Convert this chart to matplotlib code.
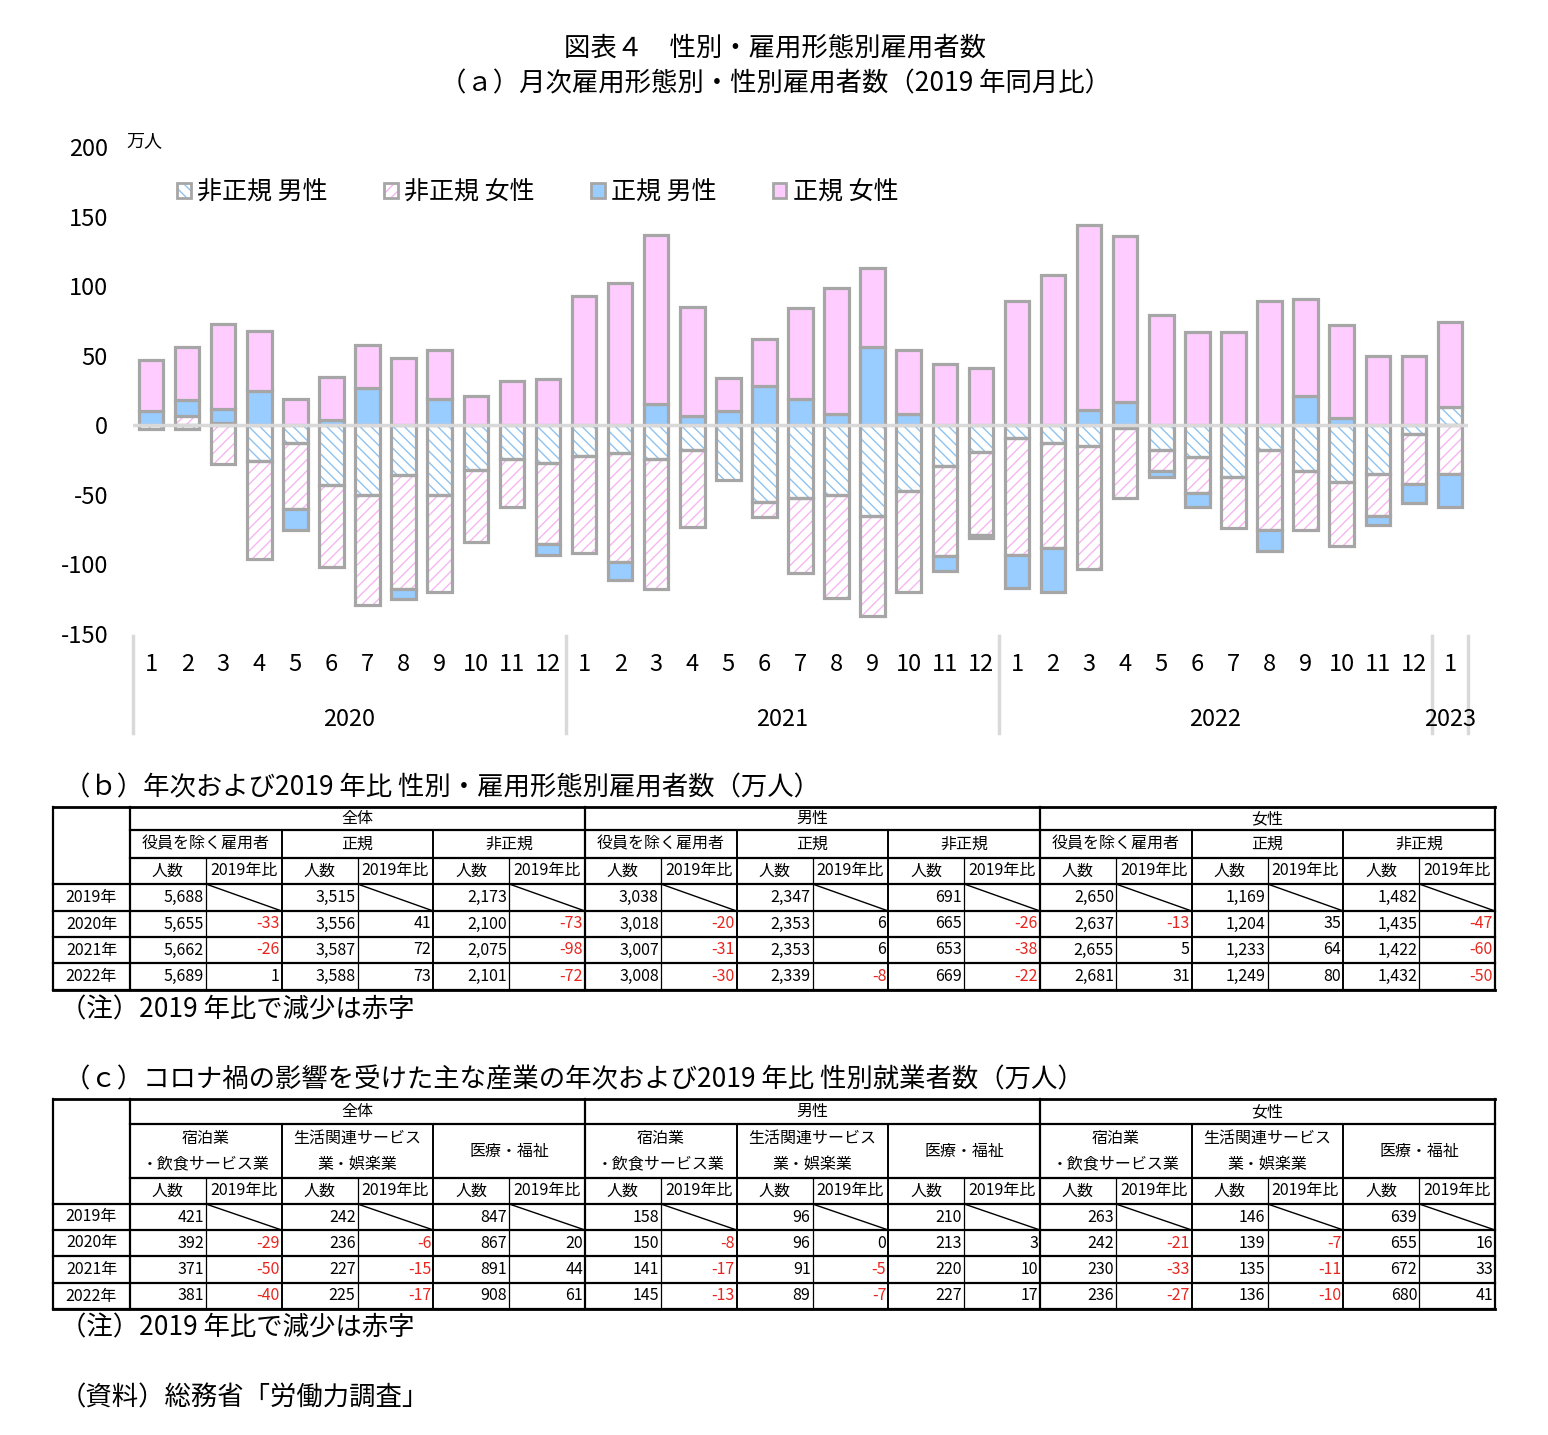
import numpy as np
import matplotlib
matplotlib.use('Agg')
import matplotlib.pyplot as plt
from matplotlib.patches import Patch
from matplotlib.legend_handler import HandlerTuple
import matplotlib.transforms as mtransforms

plt.rcParams['font.family'] = ['Noto Sans CJK JP', 'DejaVu Sans']
plt.rcParams['hatch.linewidth'] = 1.0

# ---- chart (a) data : change vs same month of 2019 (万人) ----
months = [str(m) for m in range(1, 13)] * 3 + ['1']
years = ['2020', '2021', '2022', '2023']
year_centers = [5.5, 17.5, 29.5, 36]

nonreg_male = [-3, -3, 2, -26, -13, -43, -50, -36, -50, -32, -24, -27,
               -22, -20, -24, -18, -39, -55, -52, -50, -65, -47, -29, -19,
               -9, -13, -15, -2, -18, -23, -37, -18, -33, -41, -35, -6,
               13]
nonreg_female = [0, 7, -28, -70, -47, -59, -79, -82, -70, -52, -35, -58,
                 -70, -78, -94, -55, 0, -11, -54, -74, -72, -73, -65, -60,
                 -84, -75, -88, -50, -15, -26, -37, -57, -42, -46, -30, -36,
                 -35]
reg_male = [10, 11, 10, 25, -15, 4, 27, -7, 19, 0, 0, -8,
            0, -13, 15, 7, 10, 28, 19, 8, 56, 8, -11, -2,
            -24, -32, 11, 17, -4, -10, 0, -15, 21, 5, -7, -14,
            -24]
reg_female = [37, 38, 61, 43, 19, 31, 31, 48, 35, 21, 32, 33,
              93, 102, 122, 78, 24, 34, 65, 91, 57, 46, 44, 41,
              89, 108, 133, 119, 79, 67, 67, 89, 70, 67, 50, 50,
              61]

series_names = ['非正規 男性', '非正規 女性', '正規 男性', '正規 女性']

# ---- table (b) data ----
row_years = ['2019年', '2020年', '2021年', '2022年']
b_groups = ['全体', '男性', '女性']
b_subs = ['役員を除く雇用者', '正規', '非正規']
b_counts = [[5688, 3515, 2173, 3038, 2347, 691, 2650, 1169, 1482],
            [5655, 3556, 2100, 3018, 2353, 665, 2637, 1204, 1435],
            [5662, 3587, 2075, 3007, 2353, 653, 2655, 1233, 1422],
            [5689, 3588, 2101, 3008, 2339, 669, 2681, 1249, 1432]]
b_diffs = [[-33, 41, -73, -20, 6, -26, -13, 35, -47],
           [-26, 72, -98, -31, 6, -38, 5, 64, -60],
           [1, 73, -72, -30, -8, -22, 31, 80, -50]]

# ---- table (c) data ----
c_subs = [('宿泊業', '・飲食サービス業'), ('生活関連サービス', '業・娯楽業'), ('医療・福祉',)]
c_counts = [[421, 242, 847, 158, 96, 210, 263, 146, 639],
            [392, 236, 867, 150, 96, 213, 242, 139, 655],
            [371, 227, 891, 141, 91, 220, 230, 135, 672],
            [381, 225, 908, 145, 89, 227, 236, 136, 680]]
c_diffs = [[-29, -6, 20, -8, 0, 3, -21, -7, 16],
           [-50, -15, 44, -17, -5, 10, -33, -11, 33],
           [-40, -17, 61, -13, -7, 17, -27, -10, 41]]

W, H = 1548, 1435
fig = plt.figure(figsize=(W / 100, H / 100), dpi=100)

# full-figure pixel axes for titles and tables
tax = fig.add_axes([0, 0, 1, 1])
tax.set_xlim(0, W)
tax.set_ylim(H, 0)
tax.axis('off')

# chart axes
ax = fig.add_axes([133 / W, 1 - 634 / H, 1335 / W, 487 / H])
ax.set_facecolor('none')

x = np.arange(len(months))
edge = '#A6A6A6'
styles = [
    dict(face='white', hatch='\\\\\\', hcol='#8EC3F0'),
    dict(face='white', hatch='///', hcol='#F7B5F2'),
    dict(face='#99CCFF', hatch=None, hcol=None),
    dict(face='#FFCCFF', hatch=None, hcol=None),
]
bw = 0.68
pos_bottom = np.zeros(len(x))
neg_bottom = np.zeros(len(x))
handles = []
for vals, st in zip([nonreg_male, nonreg_female, reg_male, reg_female], styles):
    v = np.array(vals, dtype=float)
    bottom = np.where(v >= 0, pos_bottom, neg_bottom)
    m = v != 0
    if st['hatch']:
        ax.bar(x[m], v[m], bw, bottom=bottom[m], color=st['face'],
               edgecolor=st['hcol'], hatch=st['hatch'], linewidth=0, zorder=2)
        ax.bar(x[m], v[m], bw, bottom=bottom[m], fill=False,
               edgecolor=edge, linewidth=2.3, zorder=3)
        h = (Patch(facecolor='white', edgecolor=st['hcol'], hatch=st['hatch'], linewidth=0),
             Patch(fill=False, edgecolor=edge, linewidth=2.0))
    else:
        ax.bar(x[m], v[m], bw, bottom=bottom[m], color=st['face'],
               edgecolor=edge, linewidth=2.3, zorder=3)
        h = Patch(facecolor=st['face'], edgecolor=edge, linewidth=2.0)
    handles.append(h)
    pos_bottom = pos_bottom + np.where(v > 0, v, 0)
    neg_bottom = neg_bottom + np.where(v < 0, v, 0)

ax.axhline(0, color='#D9D9D9', linewidth=2.5, zorder=4)
ax.set_xlim(-0.5, len(x) - 0.5)
ax.set_ylim(-150, 200)
ax.set_yticks(range(-150, 201, 50))
ax.set_yticklabels([str(t) for t in range(-150, 201, 50)], fontsize=17)
ax.set_xticks(x)
ax.set_xticklabels(months, fontsize=17)
ax.tick_params(axis='y', length=0, pad=18)
ax.tick_params(axis='x', length=0, pad=14)
for s in ax.spines.values():
    s.set_visible(False)

trans = mtransforms.blended_transform_factory(ax.transData, ax.transAxes)
for xc, yr in zip(year_centers, years):
    ax.text(xc, -0.176, yr, transform=trans, ha='center', va='center', fontsize=17)
for xs in [-0.5, 11.5, 23.5, 35.5, 36.5]:
    ax.plot([xs, xs], [-0.004, -0.203], transform=trans, color='#D9D9D9',
            linewidth=2.5, clip_on=False)
ax.text(-0.005, 1.012, '万人', transform=ax.transAxes, ha='left', va='center', fontsize=13)

ax.legend(handles, series_names, ncol=4, loc='center left', bbox_to_anchor=(0.033, 0.906),
          frameon=False, fontsize=18, handlelength=0.55, handleheight=0.55,
          handletextpad=0.25, columnspacing=2.25, borderpad=0, borderaxespad=0,
          handler_map={tuple: HandlerTuple(ndivide=1, pad=0)})

# ---- titles ----
tax.text(W / 2 + 1, 48, '図表４　性別・雇用形態別雇用者数', ha='center', va='center', fontsize=19)
tax.text(W / 2 + 1, 84, '（ａ）月次雇用形態別・性別雇用者数（2019 年同月比）', ha='center', va='center', fontsize=19)


def draw_table(lines_y, subs, counts, diffs):
    x0, x1, x2 = 53, 130, 1495
    cw = (x2 - x1) / 18
    top, gb, sb, hb = lines_y[:4]
    rows = lines_y[3:]
    fs = 11.5
    # horizontal lines
    tax.plot([x0, x2], [top, top], color='black', lw=2.0)
    for yy in (gb, sb):
        tax.plot([x1, x2], [yy, yy], color='black', lw=1.6)
    for yy in rows:
        tax.plot([x0, x2], [yy, yy], color='black', lw=1.6)
    tax.plot([x0, x2], [rows[-1], rows[-1]], color='black', lw=2.0)
    # vertical lines
    for xx in (x0, x1, x1 + 6 * cw, x1 + 12 * cw, x2):
        tax.plot([xx, xx], [top, rows[-1]], color='black', lw=1.6)
    for k in range(9):
        if k % 3:
            xx = x1 + 2 * k * cw
            tax.plot([xx, xx], [gb, rows[-1]], color='black', lw=1.4)
        xx = x1 + (2 * k + 1) * cw
        tax.plot([xx, xx], [sb, rows[-1]], color='black', lw=0.9)
    # group headers
    for g, name in enumerate(b_groups):
        tax.text(x1 + (6 * g + 3) * cw, (top + gb) / 2, name, ha='center', va='center', fontsize=fs)
    # sub headers
    for k in range(9):
        lab = subs[k % 3]
        xc = x1 + (2 * k + 1) * cw
        if isinstance(lab, tuple) and len(lab) == 2:
            tax.text(xc, gb + (sb - gb) * 0.27, lab[0], ha='center', va='center', fontsize=fs)
            tax.text(xc, gb + (sb - gb) * 0.74, lab[1], ha='center', va='center', fontsize=fs)
        else:
            lab = lab[0] if isinstance(lab, tuple) else lab
            tax.text(xc, (gb + sb) / 2, lab, ha='center', va='center', fontsize=fs)
        tax.text(x1 + (2 * k + 0.5) * cw, (sb + hb) / 2, '人数', ha='center', va='center', fontsize=fs)
        tax.text(x1 + (2 * k + 1.5) * cw, (sb + hb) / 2, '2019年比', ha='center', va='center', fontsize=fs)
    # body
    for r in range(4):
        yt, yb = rows[r], rows[r + 1]
        yc = (yt + yb) / 2
        tax.text((x0 + x1) / 2, yc, row_years[r], ha='center', va='center', fontsize=fs)
        for k in range(9):
            xr = x1 + (2 * k + 1) * cw
            tax.text(xr - 2, yc, f'{counts[r][k]:,}', ha='right', va='center', fontsize=fs)
            if r == 0:
                tax.plot([xr, xr + cw], [yt, yb], color='black', lw=1.0)
            else:
                d = diffs[r - 1][k]
                tax.text(xr + cw - 2, yc, f'{d:,}', ha='right', va='center', fontsize=fs,
                         color='#E8251F' if d < 0 else 'black')


tax.text(64, 788, '（ｂ）年次および2019 年比 性別・雇用形態別雇用者数（万人）', ha='left', va='center', fontsize=19)
draw_table([807, 830, 858, 884, 911, 937, 963, 990], b_subs, b_counts, b_diffs)
tax.text(60, 1010, '（注）2019 年比で減少は赤字', ha='left', va='center', fontsize=19)

tax.text(64, 1080, '（ｃ）コロナ禍の影響を受けた主な産業の年次および2019 年比 性別就業者数（万人）',
         ha='left', va='center', fontsize=19)
draw_table([1099, 1124, 1178, 1204, 1230, 1256, 1283, 1309], c_subs, c_counts, c_diffs)
tax.text(60, 1328, '（注）2019 年比で減少は赤字', ha='left', va='center', fontsize=19)
tax.text(60, 1398, '（資料）総務省「労働力調査」', ha='left', va='center', fontsize=19)

fig.savefig('out.png', dpi=100, facecolor='white')
